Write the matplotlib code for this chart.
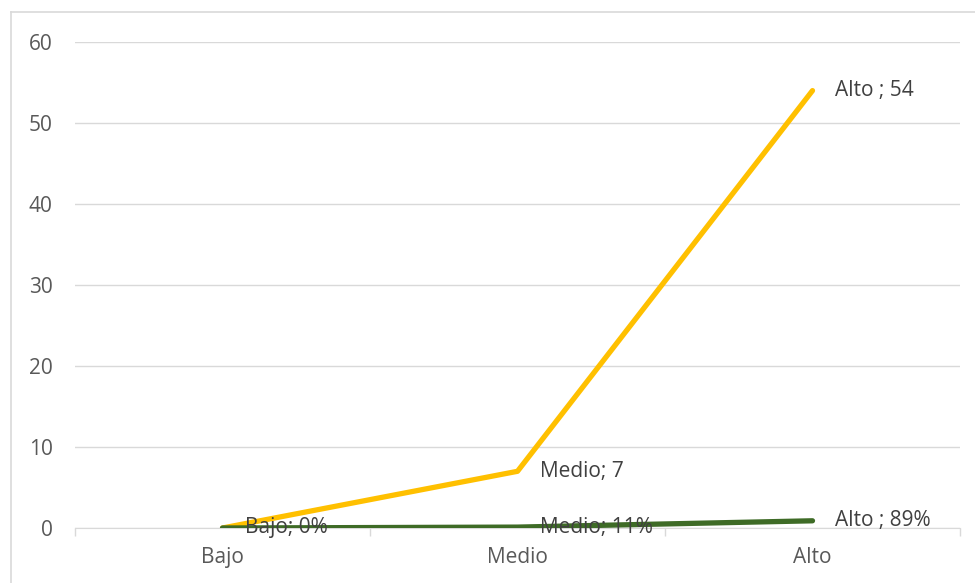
import matplotlib.pyplot as plt
from matplotlib.lines import Line2D

categories = ["Bajo", "Medio", "Alto"]
count_values = [0, 7, 54]
share_values = [0, 0.11, 0.89]
count_labels = [None, "Medio; 7", "Alto ; 54"]
share_labels = ["Bajo; 0%", "Medio; 11%", "Alto ; 89%"]

plt.rcParams['font.family'] = ['Open Sans', 'DejaVu Sans']
fs = 15

fig = plt.figure(figsize=(9.75, 5.83), dpi=100)
ax = fig.add_axes([75 / 975, 1 - 528 / 583, 885 / 975, 486 / 583])

x = list(range(len(categories)))
ax.plot(x, count_values, color="#FFC000", lw=3.8, solid_capstyle="round", zorder=3)
ax.plot(x, share_values, color="#3E6B26", lw=3.8, solid_capstyle="round", zorder=3)

for xi, v, lab in zip(x, count_values, count_labels):
    if lab:
        ax.annotate(lab, (xi, v), xytext=(16, 0), textcoords="offset points",
                    va="center", ha="left", fontsize=fs, color="#404040", zorder=5)
for xi, v, lab in zip(x, share_values, share_labels):
    ax.annotate(lab, (xi, v), xytext=(16, 0), textcoords="offset points",
                va="center", ha="left", fontsize=fs, color="#404040", zorder=5)

ax.set_xlim(-0.5, 2.5)
ax.set_ylim(0, 60)
ax.set_yticks(range(0, 61, 10))
ax.set_xticks(x)
ax.set_xticklabels(categories)
ax.set_xticks([-0.5, 0.5, 1.5, 2.5], minor=True)
ax.tick_params(axis="x", which="major", length=0, pad=14, labelsize=fs, labelcolor="#595959")
ax.tick_params(axis="x", which="minor", length=6, color="#D9D9D9", width=1)
ax.tick_params(axis="y", length=0, pad=16, labelsize=fs, labelcolor="#595959")
ax.grid(axis="y", color="#D9D9D9", lw=1)
ax.set_axisbelow(True)
for s in ["top", "right", "left"]:
    ax.spines[s].set_visible(False)
ax.spines["bottom"].set_color("#D9D9D9")
ax.spines["bottom"].set_zorder(2)

# outer chart border
fig.add_artist(Line2D([11 / 975, 11 / 975], [0, 1 - 12 / 583], transform=fig.transFigure,
                      color="#D9D9D9", lw=1.2))
fig.add_artist(Line2D([11 / 975, 1], [1 - 12 / 583, 1 - 12 / 583], transform=fig.transFigure,
                      color="#D9D9D9", lw=1.2))

fig.savefig("out.png", dpi=100)
